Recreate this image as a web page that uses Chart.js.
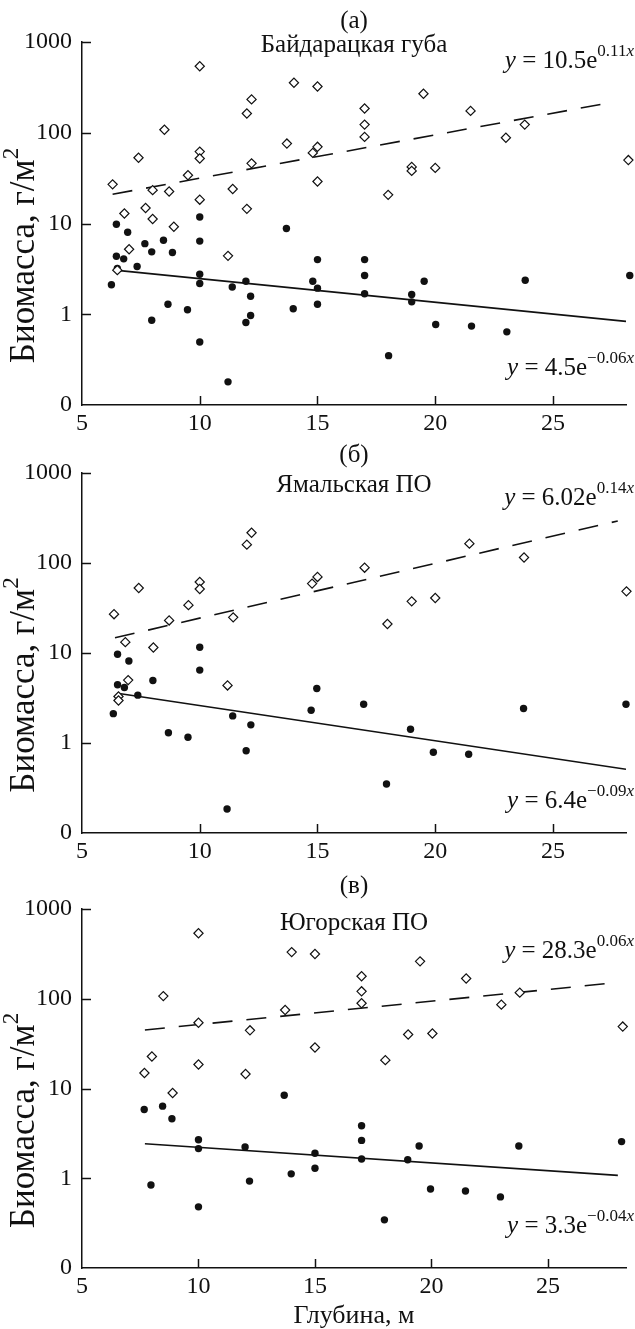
<!DOCTYPE html>
<html>
<head>
<meta charset="utf-8">
<script src="https://cdn.jsdelivr.net/npm/chart.js@4.4.1/dist/chart.umd.min.js"></script>
<style>
  body { margin: 0; background: #fff; }
  .panel { position: absolute; left: 0; width: 635px; }
</style>
</head>
<body>
<div class="panel" style="top:0px;height:440px"><canvas id="chartA" width="635" height="440"></canvas></div>
<div class="panel" style="top:440px;height:430px"><canvas id="chartB" width="635" height="430"></canvas></div>
<div class="panel" style="top:870px;height:459px"><canvas id="chartC" width="635" height="459"></canvas></div>
<script>
// axis ticks (log axis: bottom tick 0.1 is printed as "0")
const xTicks = [5, 10, 15, 20, 25];
const yTicks = [0.1, 1, 10, 100, 1000];

// (а) Байдарацкая губа
const openXA = [6.3, 6.8, 7.4, 7.7, 8.0, 8.0, 8.5, 8.7, 9.5, 10, 10, 10, 10, 11.4, 12, 12, 12.2, 12.2, 13.7, 14,
  14.8, 15, 15, 15, 17, 17, 17, 18, 19, 19, 19.5, 20, 21.5, 23, 23.8, 28.2, 7.0, 8.9, 11.2, 6.5];
const openYA = [27, 12.9, 53, 14.8, 23.3, 11.2, 108, 22.5, 34, 540, 62, 52, 18.3, 24, 163, 14.5, 233, 46, 76, 356,
  60, 70, 323, 29, 185, 123, 90, 20.7, 42, 38, 269, 41, 174, 88, 123, 50, 5.2, 9.2, 4.4, 3.06];
const dotXA = [6.25, 6.46, 6.46, 6.5, 6.77, 6.94, 7.34, 7.67, 7.96, 7.96, 8.46, 8.65, 8.84, 9.48, 10, 10, 10, 10, 10, 11.2,
  11.38, 11.96, 11.96, 12.16, 12.16, 13.68, 13.97, 14.8, 15, 15, 15, 17, 17, 17, 18.02, 19, 19, 19.53, 20.02, 21.54,
  23.04, 23.82, 28.26];
const dotYA = [2.11, 9.8, 4.36, 3.19, 4.08, 8.0, 3.36, 6.0, 4.87, 0.86, 6.55, 1.29, 4.79, 1.12, 11.8, 6.4, 2.76, 2.18, 0.495, 0.18,
  2.0, 2.31, 0.81, 1.58, 0.97, 8.8, 1.15, 2.31, 4.0, 1.94, 1.29, 4.0, 2.67, 1.68, 0.35, 1.65, 1.37, 2.31, 0.77, 0.74,
  0.64, 2.37, 2.67];

// (б) Ямальская ПО
const openXB = [6.36, 6.84, 7.41, 8.03, 8.7, 9.52, 10, 10, 11.42, 12, 12.2, 14.77, 15, 17, 17.97, 19, 20, 21.45, 23.77, 28.12,
  6.96, 11.18, 6.55, 6.55];
const openYB = [27, 13.2, 52.7, 11.5, 23, 34, 61.5, 51.4, 24.9, 160, 217, 59, 70, 88.7, 21, 37.5, 40.8, 164, 115, 48.4,
  5.0, 4.36, 3.29, 2.97];
const dotXB = [6.33, 6.51, 6.51, 6.8, 6.99, 7.37, 8.01, 8.67, 9.5, 10, 10, 11.16, 11.4, 11.97, 12.17, 14.73, 14.97, 16.96,
  17.93, 18.95, 19.92, 21.42, 23.75, 28.1];
const dotYB = [2.12, 9.7, 4.43, 4.14, 8.15, 3.4, 4.95, 1.3, 1.16, 11.6, 6.46, 0.185, 2.0, 0.82, 1.59, 2.31, 4.04, 2.7,
  0.35, 1.42, 0.79, 0.75, 2.42, 2.7];

// (в) Югорская ПО
const openXC = [7.68, 8.0, 8.49, 8.89, 10, 10, 10, 12.02, 12.21, 13.72, 14, 15, 15, 17, 17, 17, 18.02, 19, 19.51, 20.04,
  21.49, 23, 23.79, 28.21];
const openYC = [14.9, 22.7, 107, 8.9, 537, 54, 18.5, 14.5, 44.5, 75, 331, 315, 28.6, 178, 121, 89, 20.7, 40, 261, 41,
  168, 86, 117, 49];
const dotXC = [7.67, 7.96, 8.46, 8.86, 10, 10, 10, 12.0, 12.19, 13.68, 13.98, 15, 15, 17, 17, 17, 17.98, 18.98, 19.47, 19.96,
  21.46, 22.96, 23.75, 28.16];
const dotYC = [5.84, 0.84, 6.36, 4.6, 2.69, 2.14, 0.48, 2.23, 0.93, 8.4, 1.12, 1.9, 1.29, 3.85, 2.64, 1.64, 0.344, 1.61, 2.29, 0.76,
  0.72, 0.62, 2.29, 2.56];

// exponential fits y = a·e^(b·x), per panel а, б, в
const openFitA = [10.5, 6.02, 28.3];
const openFitB = [0.11, 0.14, 0.06];
const openFitRange = [[6.3, 27.6], [6.4, 27.75], [7.7, 27.7]];
const dotFitA = [4.5, 6.4, 3.3];
const dotFitB = [-0.06, -0.09, -0.04];
const dotFitRange = [[6.5, 28.1], [6.5, 28.1], [7.7, 28.0]];

const letters = ['(а)', '(б)', '(в)'];
const regions = ['Байдарацкая губа', 'Ямальская ПО', 'Югорская ПО'];

const serif = '"Liberation Serif", "DejaVu Serif", serif';
const ink = '#111';
Chart.defaults.font.family = serif;
Chart.defaults.color = ink;

function pts(xs, ys) {
  return xs.map((x, i) => ({ x: x, y: ys[i] }));
}

function fitLine(a, b, range) {
  // on a log axis the exponential is straight, so its two ends are enough
  return range.map(x => ({ x: x, y: a * Math.exp(b * x) }));
}

function fmtNum(v) {
  return v < 0 ? '\u2212' + Math.abs(v) : String(v);
}

function drawEquation(ctx, right, baseline, a, b) {
  const parts = [
    { t: 'y', f: 'italic 25px ' + serif, dy: 0 },
    { t: ' = ' + fmtNum(a) + 'e', f: '25px ' + serif, dy: 0 },
    { t: fmtNum(b), f: '17px ' + serif, dy: -12 },
    { t: 'x', f: 'italic 17px ' + serif, dy: -12 }
  ];
  let w = 0;
  parts.forEach(p => { ctx.font = p.f; p.w = ctx.measureText(p.t).width; w += p.w; });
  let x = right - w;
  ctx.textAlign = 'left';
  ctx.textBaseline = 'alphabetic';
  parts.forEach(p => { ctx.font = p.f; ctx.fillText(p.t, x, baseline + p.dy); x += p.w; });
}

// titles, equations, inward tick marks and axis titles
const decorPlugin = {
  id: 'decor',
  afterDraw(chart) {
    const o = chart.options.plugins.decor;
    const { ctx, chartArea, scales } = chart;
    const cx = (chartArea.left + chartArea.right) / 2;
    ctx.save();
    ctx.fillStyle = ink;
    ctx.strokeStyle = ink;
    ctx.lineWidth = 1.5;

    scales.y.ticks.forEach(t => {
      if (t.value <= scales.y.min) return;
      const py = Math.round(scales.y.getPixelForValue(t.value)) + 0.5;
      ctx.beginPath();
      ctx.moveTo(chartArea.left, py);
      ctx.lineTo(chartArea.left + 9, py);
      ctx.stroke();
    });
    scales.x.ticks.forEach(t => {
      if (t.value <= scales.x.min) return;
      const px = Math.round(scales.x.getPixelForValue(t.value)) + 0.5;
      ctx.beginPath();
      ctx.moveTo(px, chartArea.bottom);
      ctx.lineTo(px, chartArea.bottom - 9);
      ctx.stroke();
    });

    ctx.textAlign = 'center';
    ctx.textBaseline = 'alphabetic';
    ctx.font = '25px ' + serif;
    ctx.fillText(letters[o.idx], cx, chartArea.top + o.letterDy);
    ctx.fillText(regions[o.idx], cx, chartArea.top + o.regionDy);

    drawEquation(ctx, chart.width - 1, chartArea.top + o.topEqDy, openFitA[o.idx], openFitB[o.idx]);
    drawEquation(ctx, chart.width - 1, chartArea.bottom + o.botEqDy, dotFitA[o.idx], dotFitB[o.idx]);

    // rotated y title with superscript 2
    ctx.save();
    ctx.translate(25, (chartArea.top + chartArea.bottom) / 2 + 32);
    ctx.rotate(-Math.PI / 2);
    const mainF = '35px ' + serif, supF = '23px ' + serif;
    const label = 'Биомасса, г/м';
    ctx.font = mainF;
    const w1 = ctx.measureText(label).width;
    ctx.font = supF;
    const w2 = ctx.measureText('2').width;
    ctx.textAlign = 'left';
    ctx.textBaseline = 'middle';
    ctx.font = mainF;
    ctx.fillText(label, -(w1 + w2) / 2, 0);
    ctx.font = supF;
    ctx.fillText('2', -(w1 + w2) / 2 + w1, -13);
    ctx.restore();

    if (o.xTitle) {
      ctx.font = '26px ' + serif;
      ctx.textAlign = 'center';
      ctx.fillText(o.xTitle, cx, o.xTitleY);
    }
    ctx.restore();
  }
};

function makeChart(id, idx, cfg) {
  const datasets = [
    {
      type: 'line', data: fitLine(openFitA[idx], openFitB[idx], openFitRange[idx]),
      borderColor: ink, borderWidth: 1.6, borderDash: [20, 14], pointRadius: 0, fill: false, order: 3
    },
    {
      type: 'line', data: fitLine(dotFitA[idx], dotFitB[idx], dotFitRange[idx]),
      borderColor: ink, borderWidth: 1.6, pointRadius: 0, fill: false, order: 3
    },
    {
      data: pts(cfg.dotX, cfg.dotY), pointStyle: 'circle', pointRadius: 3.7,
      backgroundColor: ink, borderWidth: 0, clip: false, order: 2
    },
    {
      data: pts(cfg.openX, cfg.openY), pointStyle: 'rectRot', pointRadius: 4.6,
      backgroundColor: '#fff', borderColor: ink, borderWidth: 1.2, clip: false, order: 1
    }
  ];
  return new Chart(document.getElementById(id), {
    type: 'scatter',
    data: { datasets: datasets },
    options: {
      responsive: false,
      animation: false,
      devicePixelRatio: 1,
      layout: { autoPadding: false, padding: { top: cfg.top, right: 9, left: 0, bottom: 0 } },
      plugins: {
        legend: { display: false },
        tooltip: { enabled: false },
        decor: {
          idx: idx, letterDy: cfg.letterDy, regionDy: cfg.regionDy,
          topEqDy: cfg.topEqDy, botEqDy: cfg.botEqDy,
          xTitle: cfg.xTitle, xTitleY: cfg.xTitleY
        }
      },
      scales: {
        x: {
          type: 'linear', min: 5, max: cfg.xMax,
          grid: { display: false, drawTicks: false },
          border: { display: true, color: ink, width: 1.5 },
          afterBuildTicks: s => { s.ticks = xTicks.map(v => ({ value: v })); },
          afterFit: s => { s.height = cfg.xHeight; },
          ticks: { padding: 4, color: ink, font: { size: 24 }, maxRotation: 0 }
        },
        y: {
          type: 'logarithmic', min: 0.1, max: 1000,
          grid: { display: false, drawTicks: false },
          border: { display: true, color: ink, width: 1.5 },
          afterBuildTicks: s => { s.ticks = yTicks.map(v => ({ value: v })); },
          afterFit: s => { s.width = 82; },
          ticks: {
            padding: 10, color: ink, font: { size: 24 },
            callback: v => (v === 0.1 ? '0' : String(v))
          }
        }
      }
    },
    plugins: [decorPlugin]
  });
}

makeChart('chartA', 0, {
  openX: openXA, openY: openYA, dotX: dotXA, dotY: dotYA,
  top: 42, xHeight: 35, xMax: 28.1,
  letterDy: -14, regionDy: 10, topEqDy: 26, botEqDy: -30
});
makeChart('chartB', 1, {
  openX: openXB, openY: openYB, dotX: dotXB, dotY: dotYB,
  top: 33, xHeight: 37, xMax: 28.1,
  letterDy: -11, regionDy: 19, topEqDy: 32, botEqDy: -25
});
makeChart('chartC', 2, {
  openX: openXC, openY: openYC, dotX: dotXC, dotY: dotYC,
  top: 39, xHeight: 61, xMax: 28.35,
  letterDy: -16, regionDy: 21, topEqDy: 49, botEqDy: -35,
  xTitle: 'Глубина, м', xTitleY: 453
});
</script>
</body>
</html>
